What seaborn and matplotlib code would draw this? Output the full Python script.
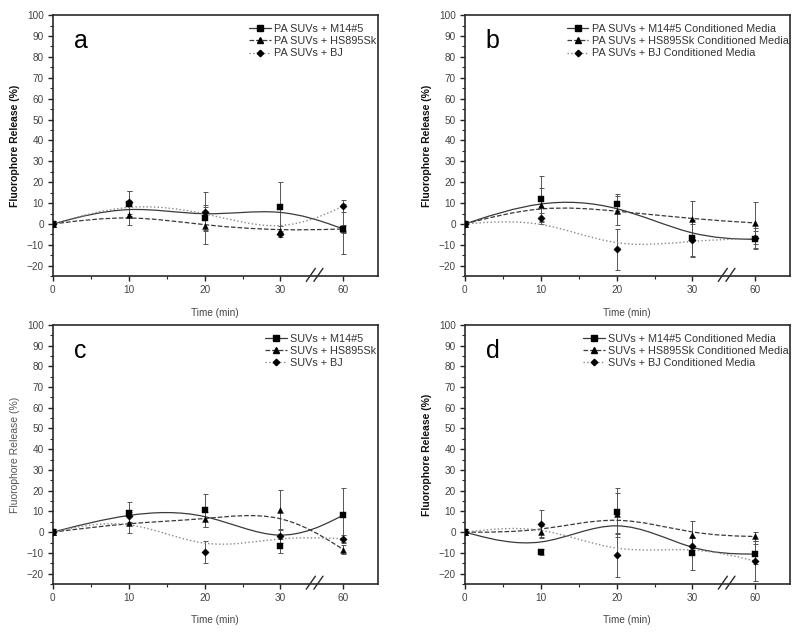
import numpy as np
import pandas as pd
import seaborn as sns
import matplotlib
matplotlib.use("Agg")
import matplotlib.pyplot as plt
from matplotlib.path import Path
from matplotlib.patches import PathPatch
from matplotlib.lines import Line2D
import matplotlib.transforms as mtransforms

# ---- data ----
times = [0, 10, 20, 30, 60]
tick_labels = ["0", "10", "20", "30", "60"]

a_m14 = [0, 9.6, 2.9, 8.3, -2.4]
a_m14_err = [1.5, 6, 6, 12, 12]
a_hs = [0, 4.5, -0.8, -3.2, -2.4]
a_hs_err = [1.5, 5, 9, 2, 2]
a_bj = [0, 10.4, 5.9, -4.8, 8.5]
a_bj_err = [1.5, 5.5, 9.5, 1.5, 3]

b_m14 = [0, 11.9, 9.7, -6.6, -7.4]
b_m14_err = [1.5, 11, 4.5, 8.5, 4]
b_hs = [0, 9.2, 6.3, 2.4, 0.5]
b_hs_err = [1.5, 8, 7, 8.4, 10]
b_bj = [0, 2.7, -12.1, -7.9, -6.9]
b_bj_err = [1.5, 2.5, 9.7, 8, 5]

c_m14 = [0, 9.4, 10.6, -6.8, 8.2]
c_m14_err = [1.5, 5, 8, 3.5, 13]
c_hs = [0, 4.5, 6.1, 10.6, -8.4]
c_hs_err = [1.5, 5, 3.5, 9.5, 2]
c_bj = [0, 7.7, -9.4, -1.9, -3.2]
c_bj_err = [1.5, 3, 5.3, 3.5, 2]

d_m14 = [0, -9.5, 9.5, -10.2, -10.6]
d_m14_err = [1.5, 1.5, 11.8, 8, 5]
d_hs = [0, 0, 8.9, -1.3, -2.1]
d_hs_err = [1.5, 3, 10, 6.5, 2]
d_bj = [0, 4, -10.9, -6.6, -14]
d_bj_err = [1.5, 6.5, 10.5, 4, 9.5]

labels_a = ["PA SUVs + M14#5", "PA SUVs + HS895Sk", "PA SUVs + BJ"]
labels_b = ["PA SUVs + M14#5 Conditioned Media", "PA SUVs + HS895Sk Conditioned Media",
            "PA SUVs + BJ Conditioned Media"]
labels_c = ["SUVs + M14#5", "SUVs + HS895Sk", "SUVs + BJ"]
labels_d = ["SUVs + M14#5 Conditioned Media", "SUVs + HS895Sk Conditioned Media",
            "SUVs + BJ Conditioned Media"]

# broken x axis: everything past the break is shifted left
BREAK_AT = 34.5
BREAK_SHIFT = 21.7


def xpos(t):
    t = np.asarray(t, dtype=float)
    return np.where(t > 35, t - BREAK_SHIFT, t)


def bspline_path(x, y):
    # clamped uniform cubic B-spline (Origin style), drawn as bezier pieces
    P = np.column_stack([x, y])
    Q = np.vstack([P[0], P[0], P, P[-1], P[-1]])
    verts = [Q[0]]
    codes = [Path.MOVETO]
    for i in range(len(Q) - 3):
        q0, q1, q2, q3 = Q[i:i + 4]
        verts += [(2 * q1 + q2) / 3, (q1 + 2 * q2) / 3, (q1 + 4 * q2 + q3) / 6]
        codes += [Path.CURVE4] * 3
    return Path(verts, codes)


styles = [("s", "-", "#3a3a3a", 0.9), ("^", "--", "#3a3a3a", 0.9), ("D", ":", "#8a8a8a", 1.0)]

sns.set_style("ticks")
plt.rcParams["font.family"] = ["Liberation Sans", "DejaVu Sans"]
plt.rcParams["axes.linewidth"] = 1.2

fig = plt.figure(figsize=(8, 6.32), dpi=100)
boxes = [(0.066, 0.563, 0.406, 0.413), (0.581, 0.563, 0.406, 0.413),
         (0.066, 0.076, 0.406, 0.410), (0.581, 0.076, 0.406, 0.410)]

panels = [
    ("a", labels_a, [(a_m14, a_m14_err), (a_hs, a_hs_err), (a_bj, a_bj_err)], True),
    ("b", labels_b, [(b_m14, b_m14_err), (b_hs, b_hs_err), (b_bj, b_bj_err)], True),
    ("c", labels_c, [(c_m14, c_m14_err), (c_hs, c_hs_err), (c_bj, c_bj_err)], False),
    ("d", labels_d, [(d_m14, d_m14_err), (d_hs, d_hs_err), (d_bj, d_bj_err)], True),
]

for box, (letter, labels, series, bold) in zip(boxes, panels):
    ax = fig.add_axes(box)
    xs = xpos(times)
    handles = []
    for (vals, errs), lab, (mk, ls, col, lw) in zip(series, labels, styles):
        ax.errorbar(xs, vals, yerr=errs, fmt="none", ecolor="#555555",
                    elinewidth=0.7, capsize=1.8, capthick=0.7, zorder=2)
        ax.add_patch(PathPatch(bspline_path(xs, vals), fill=False, edgecolor=col,
                               linewidth=lw, linestyle=ls, zorder=3))
        df = pd.DataFrame({"pos": xs, "val": vals})
        sns.scatterplot(data=df, x="pos", y="val", marker=mk, color="black",
                        s=18 if mk != "D" else 14, edgecolor="black", linewidth=0.3,
                        ax=ax, zorder=4, legend=False)
        handles.append(Line2D([], [], color=col, linestyle=ls, linewidth=lw,
                              marker=mk, markersize=3.8 if mk != "D" else 3.3,
                              markerfacecolor="black", markeredgecolor="black"))

    ax.set_xlim(0, 42.8)
    ax.set_ylim(-25, 100)
    ax.set_xticks(xs)
    ax.set_xticklabels(tick_labels)
    ax.set_xticks([5, 15, 25], minor=True)
    ax.set_yticks(np.arange(-20, 101, 10))
    ax.set_yticks(np.arange(-25, 100, 5), minor=True)
    ax.tick_params(axis="both", which="major", direction="out", length=3.5,
                   width=1.0, labelsize=7.2, colors="#222222", labelcolor="#444444", pad=3)
    ax.tick_params(axis="both", which="minor", direction="out", length=2, width=0.8)
    for sp in ax.spines.values():
        sp.set_color("#2a2a2a")

    ax.set_xlabel("Time (min)", fontsize=7.2, color="#444444", labelpad=9)
    ax.set_ylabel("Fluorophore Release (%)", fontsize=7.5,
                  fontweight="bold" if bold else "normal",
                  color="#111111" if bold else "#555555", labelpad=5)

    # break marks on the x axis
    trans = mtransforms.blended_transform_factory(ax.transData, ax.transAxes)
    for dx in (-0.5, 0.5):
        ax.plot([BREAK_AT + dx - 0.6, BREAK_AT + dx + 0.6], [-0.02, 0.03],
                color="#2a2a2a", linewidth=1.0, transform=trans, clip_on=False, zorder=6)

    ax.text(0.065, 0.9, letter, transform=ax.transAxes, fontsize=18,
            ha="left", va="center", color="black")

    ax.legend(handles, labels, loc="upper right", bbox_to_anchor=(1.02, 0.995),
              frameon=False, fontsize=7.8, handlelength=2.0, handletextpad=0.3,
              labelspacing=0.2, borderaxespad=0.3, labelcolor="#333333")

fig.savefig("out.png", dpi=100)
